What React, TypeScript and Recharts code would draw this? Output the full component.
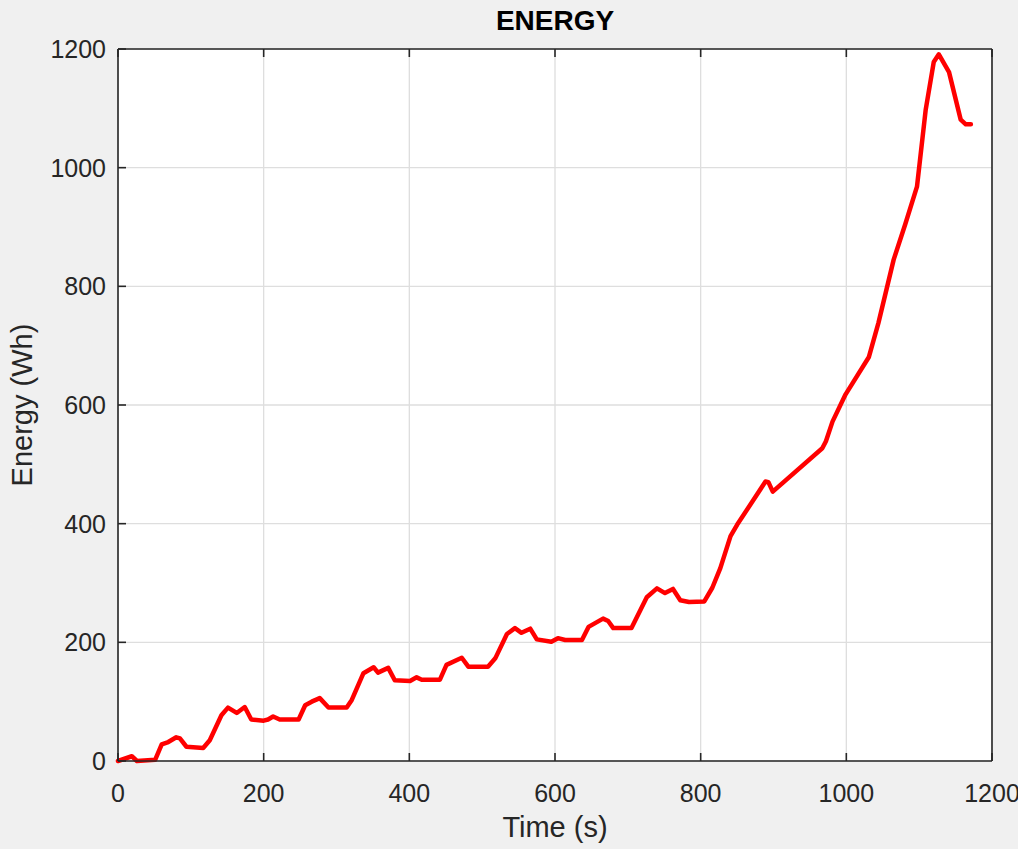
import { LineChart, Line, XAxis, YAxis, CartesianGrid } from 'recharts';

// time (s) and energy (Wh)
const timeS = [
  0, 19, 26, 51, 60, 69, 80, 85, 94, 117, 126, 142, 151, 163, 174, 183, 200, 206, 213, 222,
  248, 257, 266, 277, 289, 314, 321, 337, 351, 357, 371, 380, 401, 410, 417, 442, 451, 472,
  481, 508, 518, 534, 545, 554, 566, 575, 595, 604, 614, 637, 646, 666, 673, 680, 705, 726,
  740, 751, 762, 772, 784, 805, 816, 827, 841, 850, 889, 893, 899, 967, 972, 981, 999, 1031,
  1044, 1065, 1081, 1097, 1109, 1120, 1127, 1141, 1157, 1164, 1171,
];
const energyWh = [
  0, 8, 0, 2, 28, 32, 40, 38, 24, 22, 35, 77, 90, 81, 91, 70, 68, 70, 75, 70,
  70, 94, 100, 106, 90, 90, 103, 148, 158, 149, 157, 136, 135, 141, 137, 137, 162, 174,
  159, 159, 173, 214, 224, 216, 223, 205, 201, 207, 204, 204, 226, 240, 236, 224, 224, 276,
  291, 283, 290, 271, 268, 269, 292, 325, 379, 398, 471, 470, 454, 527, 539, 572, 618, 681,
  738, 845, 905, 968, 1098, 1178, 1191, 1161, 1081, 1073, 1073,
];
const xTicks = [0, 200, 400, 600, 800, 1000, 1200];
const yTicks = [0, 200, 400, 600, 800, 1000, 1200];

const data = timeS.map((t, i) => ({ t, e: energyWh[i] }));

const W = 1018;
const H = 849;
const box = { left: 118, top: 49, right: 992, bottom: 761 };
const TICK = 8;
const INK = '#262626';
const FONT = '"Liberation Sans", Arial, sans-serif';

const BottomTick = ({ x, payload }: any) => (
  <g>
    <line x1={x} x2={x} y1={box.bottom} y2={box.bottom - TICK} stroke={INK} strokeWidth={1.6} />
    <text x={x} y={box.bottom + 41} textAnchor="middle" fill={INK} fontSize={25} fontFamily={FONT}>
      {payload.value}
    </text>
  </g>
);

const TopTick = ({ x }: any) => (
  <line x1={x} x2={x} y1={box.top} y2={box.top + TICK} stroke={INK} strokeWidth={1.6} />
);

const LeftTick = ({ y, payload }: any) => (
  <g>
    <line x1={box.left} x2={box.left + TICK} y1={y} y2={y} stroke={INK} strokeWidth={1.6} />
    <text x={box.left - 12} y={y + 9} textAnchor="end" fill={INK} fontSize={25} fontFamily={FONT}>
      {payload.value}
    </text>
  </g>
);

const RightTick = ({ y }: any) => (
  <line x1={box.right} x2={box.right - TICK} y1={y} y2={y} stroke={INK} strokeWidth={1.6} />
);

export default function App() {
  return (
    <div style={{ position: 'absolute', left: 0, top: 0, width: W, height: H, background: '#f0f0f0', fontFamily: FONT }}>
      <LineChart
        width={W}
        height={H}
        data={data}
        margin={{ top: box.top - 1, right: W - box.right - 1, bottom: H - box.bottom - 30, left: box.left - 60 }}
        style={{ position: 'absolute', left: 0, top: 0 }}
      >
        <CartesianGrid fill="#ffffff" stroke="#dedede" strokeWidth={1.3} />
        <XAxis
          dataKey="t"
          type="number"
          domain={[0, 1200]}
          ticks={xTicks}
          height={30}
          tickLine={false}
          tick={<BottomTick />}
          stroke={INK}
          strokeWidth={1.6}
          interval={0}
        />
        <XAxis
          xAxisId="t"
          orientation="top"
          dataKey="t"
          type="number"
          domain={[0, 1200]}
          ticks={xTicks}
          height={1}
          tickLine={false}
          tick={<TopTick />}
          stroke={INK}
          strokeWidth={1.6}
          interval={0}
        />
        <YAxis
          type="number"
          domain={[0, 1200]}
          ticks={yTicks}
          width={60}
          tickLine={false}
          tick={<LeftTick />}
          stroke={INK}
          strokeWidth={1.6}
          interval={0}
        />
        <YAxis
          yAxisId="r"
          orientation="right"
          type="number"
          domain={[0, 1200]}
          ticks={yTicks}
          width={1}
          tickLine={false}
          tick={<RightTick />}
          stroke={INK}
          strokeWidth={1.6}
          interval={0}
        />
        <Line
          type="linear"
          dataKey="e"
          stroke="#ff0000"
          strokeWidth={4.5}
          strokeLinejoin="round"
          strokeLinecap="round"
          dot={false}
          isAnimationActive={false}
        />
      </LineChart>
      <div style={{ position: 'absolute', left: box.left, width: box.right - box.left, top: 5, textAlign: 'center', fontSize: 28, fontWeight: 'bold', color: '#000' }}>
        ENERGY
      </div>
      <div style={{ position: 'absolute', left: box.left, width: box.right - box.left, top: 811, textAlign: 'center', fontSize: 29, color: INK }}>
        Time (s)
      </div>
      <div style={{ position: 'absolute', left: 22, top: (box.top + box.bottom) / 2, transform: 'translate(-50%, -50%) rotate(-90deg)', whiteSpace: 'nowrap', fontSize: 29, color: INK }}>
        Energy (Wh)
      </div>
    </div>
  );
}
